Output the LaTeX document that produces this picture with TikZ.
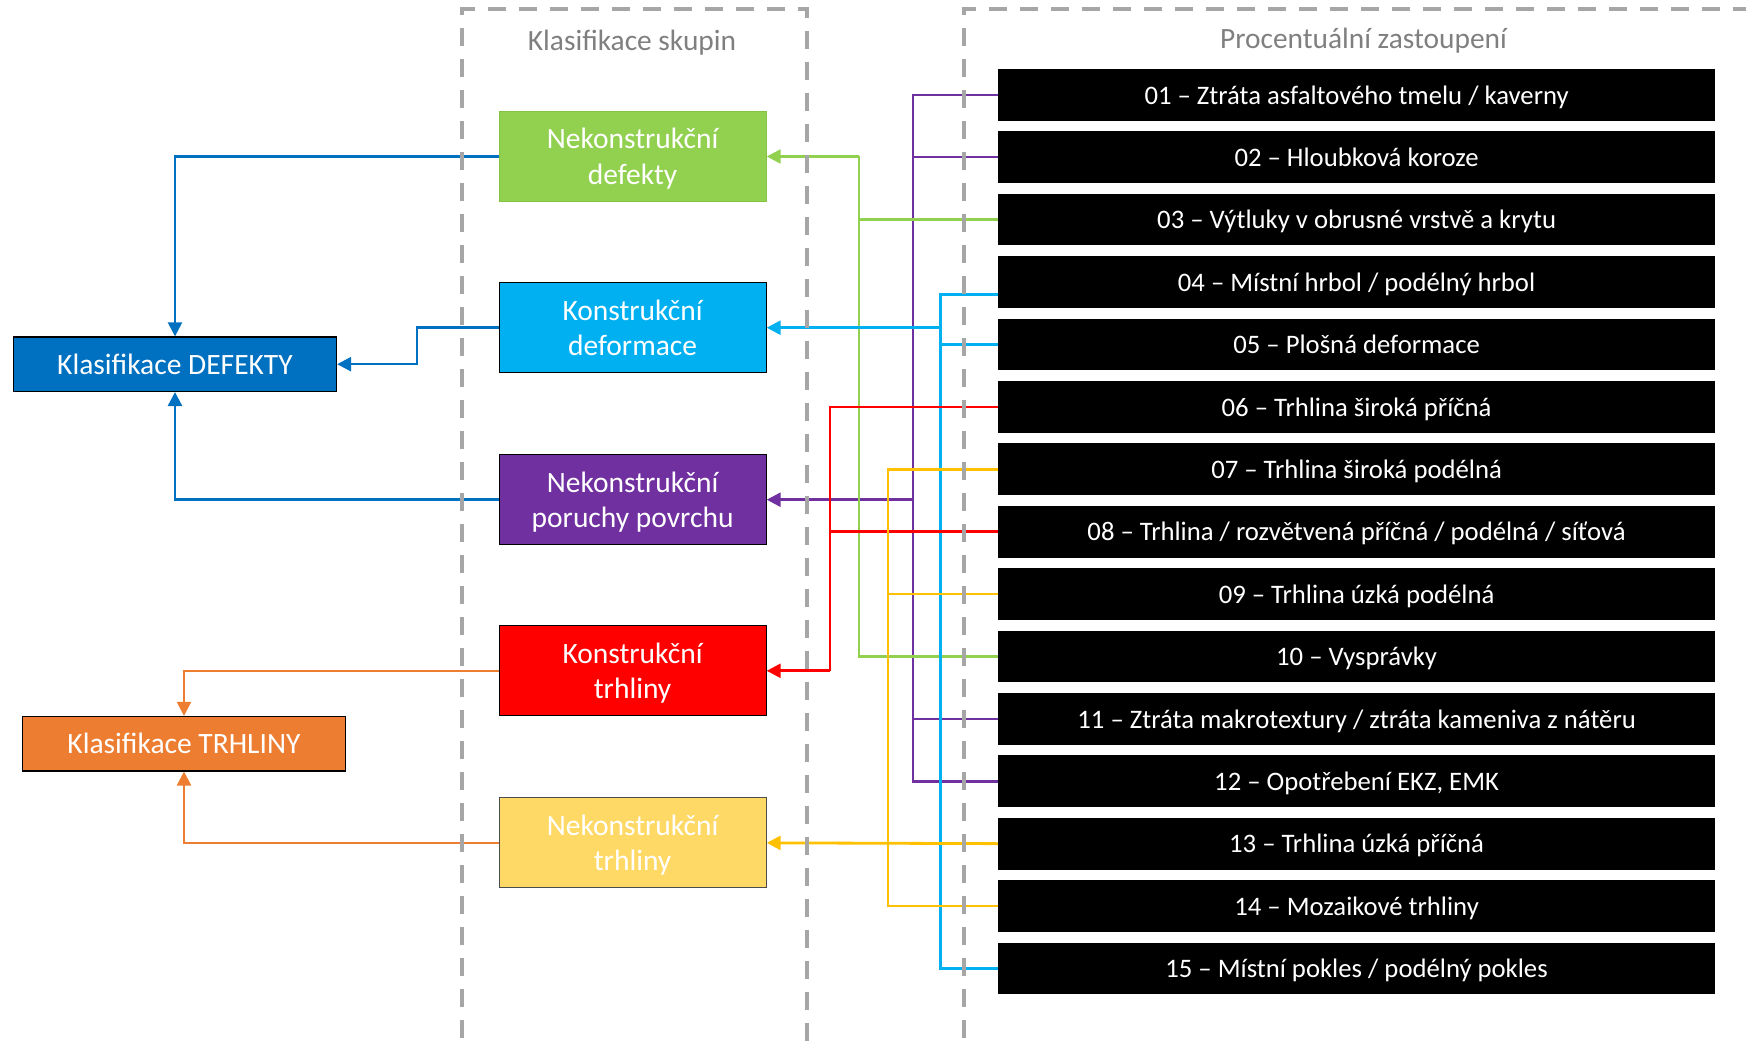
\documentclass[tikz,border=0pt]{standalone}
\usepackage{fontspec}
\setmainfont{Carlito}
\usetikzlibrary{arrows.meta,calc}

\definecolor{cGreen}{HTML}{92D050}
\definecolor{cGreenEdge}{HTML}{84C241}
\definecolor{cCyan}{HTML}{00B0F0}
\definecolor{cPurple}{HTML}{7030A0}
\definecolor{cRed}{HTML}{FF0000}
\definecolor{cYellow}{HTML}{FFD966}
\definecolor{cYellowLine}{HTML}{FFC000}
\definecolor{cBlue}{HTML}{0070C0}
\definecolor{cOrange}{HTML}{ED7D31}
\definecolor{cGray}{HTML}{A6A6A6}
\definecolor{cTitle}{HTML}{7F7F7F}

\tikzset{
  groupbox/.style={draw=black, line width=1.2pt, minimum width=267pt, minimum height=90pt,
    inner sep=0pt, align=center, text=white, text depth=0pt,
    font=\fontsize{29.5}{35.7}\selectfont},
  classbox/.style={draw=black, line width=1.2pt, minimum width=323pt, minimum height=54.5pt,
    inner sep=0pt, text=white, text depth=0pt, font=\fontsize{29.5}{35}\selectfont},
  itembox/.style={fill=black, minimum width=717pt, minimum height=51.7pt,
    inner sep=0pt, text=white, text depth=0pt, font=\fontsize{26.7}{32}\selectfont},
  title/.style={text=cTitle, text depth=0pt, font=\fontsize{29.4}{35}\selectfont},
  link/.style={line width=2.5pt},
  feed/.style={line width=2.8pt, -{Triangle[length=14pt,width=14pt]}},
  frame/.style={draw=cGray, line width=4pt, dash pattern=on 18pt off 13pt},
}

\begin{document}
\begin{tikzpicture}[x=1pt, y=-1pt]
\useasboundingbox (0,0) rectangle (1746,1043);
\clip (0,0) rectangle (1746,1043);

% group boxes (middle column)
\node[groupbox, fill=cGreen, draw=cGreenEdge] (g1) at (632.6,156.5) {Nekonstrukční\\defekty};
\node[groupbox, fill=cCyan]   (g2) at (632.6,327.7) {Konstrukční\\deformace};
\node[groupbox, fill=cPurple] (g3) at (632.6,499.7) {Nekonstrukční\\poruchy povrchu};
\node[groupbox, fill=cRed]    (g4) at (632.6,670.8) {Konstrukční\\trhliny};
\node[groupbox, fill=cYellow, draw=black!70] (g5) at (632.6,842.85) {Nekonstrukční\\trhliny};

% classification boxes (left column)
\node[classbox, fill=cBlue]   (kd) at (175,364.2) {Klasifikace DEFEKTY};
\node[classbox, fill=cOrange] (kt) at (184,743.7) {Klasifikace TRHLINY};

% defect types (right column)
\foreach \i/\t [count=\n from 0] in {
  01/{01 – Ztráta asfaltového tmelu / kaverny},
  02/{02 – Hloubková koroze},
  03/{03 – Výtluky v obrusné vrstvě a krytu},
  04/{04 – Místní hrbol / podélný hrbol},
  05/{05 – Plošná deformace},
  06/{06 – Trhlina široká příčná},
  07/{07 – Trhlina široká podélná},
  08/{08 – Trhlina / rozvětvená příčná / podélná / síťová},
  09/{09 – Trhlina úzká podélná},
  10/{10 – Vysprávky},
  11/{11 – Ztráta makrotextury / ztráta kameniva z nátěru},
  12/{12 – Opotřebení EKZ, EMK},
  13/{13 – Trhlina úzká příčná},
  14/{14 – Mozaikové trhliny},
  15/{15 – Místní pokles / podélný pokles}}
{
  \node[itembox] (b\i) at (1356.6, {94.85+62.4*\n}) {\t};
}

% bus positions
\coordinate (busR) at (829.9,0);
\coordinate (busG) at (858.9,0);
\coordinate (busY) at (887.8,0);
\coordinate (busP) at (913.2,0);
\coordinate (busC) at (940.5,0);
\coordinate (b04w) at ($(b04.west)+(0,12.4)$);

% purple: 01, 02, 11, 12 -> surface defects
\draw[link, cPurple] (b01.west) -- (b01.west -| busP) -- (b12.west -| busP) -- (b12.west);
\draw[link, cPurple] (b02.west) -- (b02.west -| busP);
\draw[link, cPurple] (b11.west) -- (b11.west -| busP);
\draw[feed, cPurple] (g3.east -| busP) -- (g3.east);

% green: 03, 10 -> non-structural defects
\draw[link, cGreen] (b10.west) -- (b10.west -| busG) -- (g1.east -| busG);
\draw[link, cGreen] (b03.west) -- (b03.west -| busG);
\draw[feed, cGreen, line width=2.5pt] (g1.east -| busG) -- (g1.east);

% cyan: 04, 05, 15 -> structural deformation
\draw[link, cCyan] (b04w) -- (b04w -| busC) -- (b15.west -| busC) -- (b15.west);
\draw[link, cCyan] (b05.west) -- (b05.west -| busC);
\draw[feed, cCyan] (g2.east -| busC) -- (g2.east);

% red: 06, 08 -> structural cracks
\draw[link, cRed] (b06.west) -- (b06.west -| busR) -- (g4.east -| busR);
\draw[link, cRed] (b08.west) -- (b08.west -| busR);
\draw[feed, cRed] (g4.east -| busR) -- (g4.east);

% yellow: 07, 09, 13, 14 -> non-structural cracks
\draw[link, cYellowLine] (b07.west) -- (b07.west -| busY) -- (b14.west -| busY) -- (b14.west);
\draw[link, cYellowLine] (b09.west) -- (b09.west -| busY);
\draw[feed, cYellowLine] (b13.west) -- (g5.east);

% groups -> classifications
\draw[feed, cBlue, line width=2.5pt] (g1.west) -| (kd.north);
\draw[feed, cBlue, line width=2.5pt] (g2.west) -- ++(-81.4,0) |- (kd.east);
\draw[feed, cBlue, line width=2.5pt] (g3.west) -| (kd.south);
\draw[feed, cOrange, line width=2.5pt] (g4.west) -| (kt.north);
\draw[feed, cOrange, line width=2.5pt] (g5.west) -| (kt.south);

% dashed frames
\draw[frame] (462.3,1100) -- (462.3,9.3) -- (807,9.3) -- (807,1100);
\draw[frame] (963.8,1100) -- (963.8,9.3) -- (1800,9.3);

% frame titles
\node[title] (t1) at (632,40) {Klasifikace skupin};
\node[title] (t2) at (1363.5,38.3) {Procentuální zastoupení};
\end{tikzpicture}
\end{document}
